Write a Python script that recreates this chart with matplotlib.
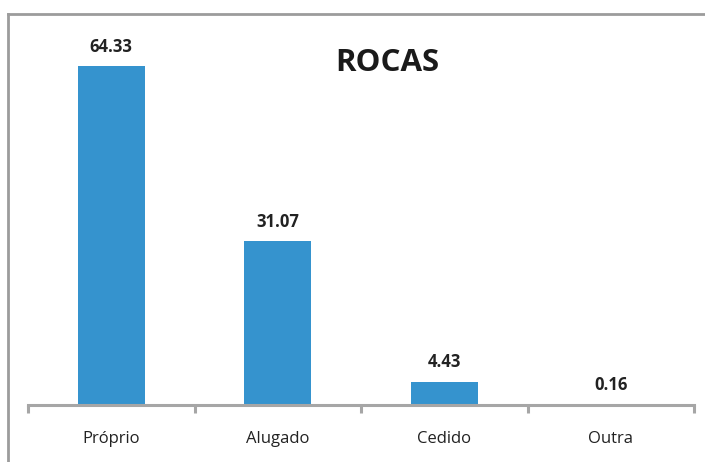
import matplotlib
matplotlib.use("Agg")
import matplotlib.pyplot as plt
from matplotlib.lines import Line2D

categories = ["Próprio", "Alugado", "Cedido", "Outra"]
values = [64.33, 31.07, 4.43, 0.16]
labels = ["64.33", "31.07", "4.43", "0.16"]
title = "ROCAS"

plt.rcParams['font.family'] = ['Open Sans', 'DejaVu Sans']

fig = plt.figure(figsize=(7.05, 4.62), dpi=100)
ax = fig.add_axes([28/705, 57/462, (694-28)/705, (405-14)/462])

x = list(range(len(categories)))
ax.bar(x, values, width=0.4, color="#3593CE", zorder=2)
ax.set_xlim(-0.5, len(categories) - 0.5)
ax.set_ylim(0, 391/5.27)

for xi, v, lab in zip(x, values, labels):
    ax.annotate(lab, (xi, v), xytext=(0, 7.5), textcoords="offset points",
                ha="center", va="bottom", fontsize=12, fontweight="bold", color="#222222")

for s in ["top", "right", "left"]:
    ax.spines[s].set_visible(False)
ax.spines["bottom"].set_color("#A6A6A6")
ax.spines["bottom"].set_linewidth(2.2)
ax.set_yticks([])
ax.set_xticks([i - 0.5 for i in range(len(categories) + 1)], minor=False)
ax.set_xticklabels([])
ax.tick_params(axis="x", which="major", length=6, width=2.2, color="#A6A6A6", direction="out")
ax.set_xticks(x, minor=True)
ax.set_xticklabels(categories, minor=True, fontsize=12, color="#222222")
ax.tick_params(axis="x", which="minor", length=0, pad=19)

fig.text(387/705, 1 - 63/462, title, ha="center", va="center", fontsize=22.5,
         fontweight="bold", color="#1a1a1a")

# chart border
fig.add_artist(Line2D([8/705, 8/705], [0, 1 - 14/462], transform=fig.transFigure,
                      color="#9C9C9C", lw=2))
fig.add_artist(Line2D([8/705, 1], [1 - 14/462, 1 - 14/462], transform=fig.transFigure,
                      color="#9C9C9C", lw=2))

fig.savefig("out.png", dpi=100)
